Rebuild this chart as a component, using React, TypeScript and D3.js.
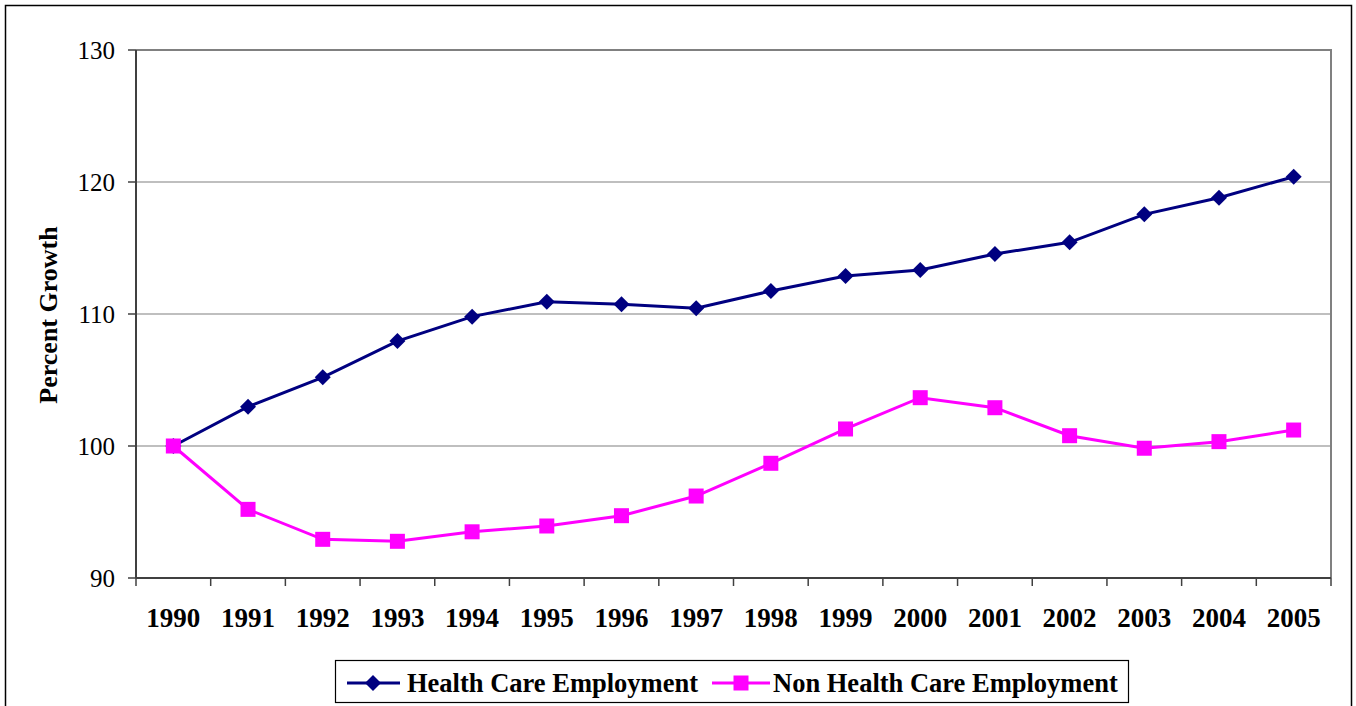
import React from "react";
import { scaleBand, scaleLinear, line } from "d3";

const years = ["1990", "1991", "1992", "1993", "1994", "1995", "1996", "1997", "1998", "1999", "2000", "2001", "2002", "2003", "2004", "2005"];
const healthCare = [100, 102.98, 105.2, 107.95, 109.8, 110.93, 110.73, 110.43, 111.74, 112.88, 113.33, 114.55, 115.43, 117.55, 118.81, 120.4];
const nonHealthCare = [100, 95.2, 92.93, 92.78, 93.5, 93.94, 94.72, 96.21, 98.69, 101.29, 103.66, 102.9, 100.78, 99.83, 100.33, 101.21];
const yTicks = [90, 100, 110, 120, 130];

const font = "'Liberation Serif', 'Times New Roman', serif";
const navy = "#000080";
const pink = "#FF00FF";

const App = () => {
  const width = 1356;
  const height = 706;
  const plot = { left: 136, right: 1331, top: 50, bottom: 578 };

  const xScale = scaleBand().domain(years).range([plot.left, plot.right]).padding(0);
  const yScale = scaleLinear().domain([90, 130]).range([plot.bottom, plot.top]);
  const cx = (y: string) => (xScale(y) as number) + xScale.bandwidth() / 2;

  const path = line<number>()
    .x((_, i) => cx(years[i]))
    .y(d => yScale(d));

  const diamond = (x: number, y: number, r: number) =>
    `M${x},${y - r}L${x + r},${y}L${x},${y + r}L${x - r},${y}Z`;

  return (
    <svg width={width} height={height} style={{ position: "absolute", left: 0, top: 0, background: "#fff" }}>
      {/* outer frame */}
      <rect x={5.5} y={5.5} width={1346} height={730} fill="none" stroke="#000" strokeWidth={1.5} />

      {/* gridlines */}
      {yTicks.slice(1, -1).map(t => (
        <line key={t} x1={plot.left} x2={plot.right} y1={yScale(t)} y2={yScale(t)} stroke="#808080" strokeWidth={1.2} />
      ))}
      {/* plot border top + right */}
      <path d={`M${plot.left},${plot.top}H${plot.right}V${plot.bottom}`} fill="none" stroke="#808080" strokeWidth={2} />

      {/* y axis */}
      <line x1={plot.left} x2={plot.left} y1={plot.top} y2={plot.bottom} stroke="#404040" strokeWidth={2} />
      {yTicks.map(t => (
        <g key={t}>
          <line x1={plot.left - 8} x2={plot.left} y1={yScale(t)} y2={yScale(t)} stroke="#404040" strokeWidth={1.5} />
          <text x={115} y={yScale(t)} dy="0.35em" textAnchor="end" fontFamily={font} fontSize={25} fill="#000">{t}</text>
        </g>
      ))}

      {/* x axis */}
      <line x1={plot.left} x2={plot.right} y1={plot.bottom} y2={plot.bottom} stroke="#404040" strokeWidth={2} />
      {years.map(y => (
        <line key={"t" + y} x1={xScale(y)} x2={xScale(y)} y1={plot.bottom} y2={plot.bottom + 8} stroke="#404040" strokeWidth={1.5} />
      ))}
      <line x1={plot.right} x2={plot.right} y1={plot.bottom} y2={plot.bottom + 8} stroke="#404040" strokeWidth={1.5} />
      {years.map(y => (
        <text key={"l" + y} x={cx(y)} y={627} textAnchor="middle" fontFamily={font} fontWeight="bold" fontSize={27} fill="#000">{y}</text>
      ))}

      {/* y title */}
      <text transform="translate(57,315) rotate(-90)" textAnchor="middle" fontFamily={font} fontWeight="bold" fontSize={26} fill="#000">Percent Growth</text>

      {/* series */}
      <path d={path(healthCare) as string} fill="none" stroke={navy} strokeWidth={3} />
      {healthCare.map((v, i) => (
        <path key={"h" + i} d={diamond(cx(years[i]), yScale(v), 8)} fill={navy} />
      ))}
      <path d={path(nonHealthCare) as string} fill="none" stroke={pink} strokeWidth={3} />
      {nonHealthCare.map((v, i) => (
        <rect key={"n" + i} x={cx(years[i]) - 7.5} y={yScale(v) - 7.5} width={15} height={15} fill={pink} />
      ))}

      {/* legend */}
      <rect x={335.5} y={660.5} width={793} height={42} fill="#fff" stroke="#000" strokeWidth={1.2} />
      <line x1={347} x2={400} y1={683} y2={683} stroke={navy} strokeWidth={3} />
      <path d={diamond(373, 683, 8)} fill={navy} />
      <text x={407} y={692} fontFamily={font} fontWeight="bold" fontSize={26.5} fill="#000">Health Care Employment</text>
      <line x1={712} x2={770} y1={683} y2={683} stroke={pink} strokeWidth={3} />
      <rect x={733.5} y={675.5} width={15} height={15} fill={pink} />
      <text x={773} y={692} fontFamily={font} fontWeight="bold" fontSize={26.5} fill="#000">Non Health Care Employment</text>
    </svg>
  );
};

export default App;
